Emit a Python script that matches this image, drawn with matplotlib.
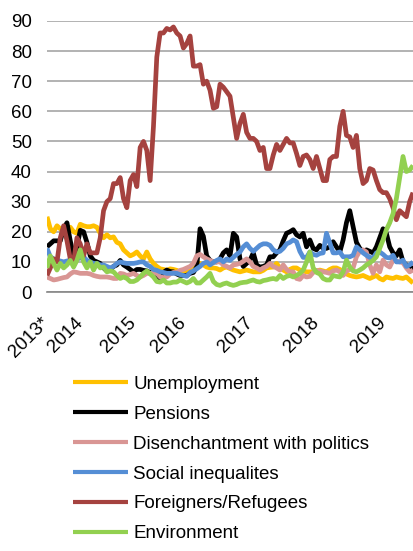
import matplotlib
matplotlib.use("Agg")
import matplotlib.pyplot as plt

plt.rcParams['font.family'] = ['Liberation Sans', 'DejaVu Sans']

# survey index (roughly every 2-3 weeks), years marked on the axis
years = ['2013*', '2014', '2015', '2016', '2017', '2018', '2019']
year_pos = [0, 10, 26, 41, 61, 81, 101]

unemployment = [25, 21, 20, 22, 21, 20, 21.5, 21.5, 20, 19.5, 22.5, 22, 21.7, 21.7, 22, 21.5,
                19.5, 18, 19, 18, 18.3, 16.5, 16, 14, 13, 12, 12.5, 13.3, 12, 11, 13.3, 11,
                9.5, 8.5, 7.7, 7.5, 7.2, 7.7, 7.5, 7.2, 6.5, 6.5, 7, 8, 9, 9.5, 9.5, 9,
                8.3, 8, 8, 7.8, 7.3, 8, 8.3, 7.8, 7.3, 7, 6.7, 7, 7.3, 7, 6.7, 6.7,
                6.7, 7.2, 8, 8.2, 8.3, 9.5, 8, 7.3, 6.7, 7.5, 8, 8, 7.3, 7, 6.7, 6.7,
                6.7, 7, 7.3, 7, 6.7, 7.5, 8, 8, 7.5, 6.7, 6, 5.5, 5.2, 5, 5.2, 5.5,
                5, 4.5, 5, 5.5, 4.5, 4, 5, 4.7, 4.5, 5, 4.7, 4.5, 5, 4, 3]

pensions = [15, 16, 17, 17, 17, 21, 23, 17, 12, 15, 20.5, 20, 16.5, 12, 10.5, 10,
            9.5, 8, 7, 7.5, 8.5, 9, 10.5, 9, 8.3, 7.5, 6.7, 7.5, 7.5, 7.2, 7, 6.5,
            6, 5.5, 4.5, 6.5, 7.3, 6.8, 6.7, 6, 5.5, 5.5, 5.5, 6.2, 6.5, 8.3, 21, 18.5,
            12, 10.5, 10, 10, 11, 13, 14, 12, 19.5, 18.3, 11, 8.5, 9.5, 10.5, 13, 9,
            8.3, 8.5, 9, 11.7, 11.7, 13, 14, 17, 19.5, 20, 20.7, 19, 18.3, 19.5, 15, 17.3,
            14.5, 14, 15.5, 14.5, 14.5, 15, 16.7, 15, 13.3, 17.3, 23, 27, 21.7, 16.5, 14.5, 13.3,
            14, 13.5, 13, 15, 18, 21, 19.5, 15, 13, 12, 14, 10, 9, 8, 8]

disenchantment = [5, 4.5, 4, 4.2, 4.5, 4.8, 5, 6, 6.7, 6.5, 6.2, 6.2, 6.2, 6, 5.5, 5.2,
                  5, 5, 5, 4.8, 4.5, 4.5, 6.2, 6, 5.5, 5.8, 6.2, 5.5, 5, 5.5, 6.2, 6.2,
                  6.2, 6.2, 5, 4.8, 5, 6, 6.5, 6.5, 7.2, 7.5, 8, 8.5, 9.5, 12, 12.5, 11.7,
                  11, 10.5, 10, 10, 10, 9, 8.5, 8, 9, 9.2, 9.5, 10.2, 11, 10, 8.5, 8,
                  7.3, 8, 8.5, 9.5, 8.5, 8, 7.3, 9, 7.5, 6.7, 6.7, 4.5, 4.2, 5.5, 5, 5.2,
                  6.5, 7.2, 7, 6.7, 6.5, 6.2, 7, 7.3, 6.7, 5.5, 7, 7.5, 8, 11.7, 13.5, 14,
                  13.3, 9, 6.2, 9, 6.7, 10.6, 9, 8.3, 10.6, 10.3, 10, 9.7, 8, 6.7, 7.3]

inequalities = [14.5, 11.7, 11, 10.5, 10.3, 10, 10.3, 10.5, 10.8, 11, 11.3, 11.7, 10.5, 10, 9.5, 9.5,
                9, 9, 8.5, 8, 8.5, 9.5, 10, 9.7, 9.5, 9.5, 9.5, 9.7, 10, 10, 9, 8.5,
                7.5, 7.2, 6.7, 6.5, 6.2, 6.2, 6.2, 6.2, 5.8, 5.5, 5.2, 6.5, 7, 7.7, 8.5, 9.5,
                10, 9, 9.8, 10.5, 11, 10, 11, 10.5, 11.5, 12.5, 13.3, 15, 16, 14.5, 13.5, 14.5,
                15.5, 16, 16, 15.5, 14, 13.3, 13.5, 14.5, 16, 16.5, 17.3, 16.7, 13.5, 11.5, 11.5, 13.3,
                12.5, 12.2, 12.8, 13, 19.5, 16.3, 13, 13, 13.3, 11.7, 11.7, 11.7, 12.2, 15, 14, 13,
                12.2, 11.5, 11.3, 13, 13.3, 12.5, 11.5, 11.3, 12.2, 10, 10, 10.6, 8.5, 9, 10]

refugees = [5.5, 8, 11, 10, 18, 22, 17, 11, 10, 18, 16, 12, 16, 13, 13, 13,
            18, 27, 30, 31, 36, 36, 38, 31, 28, 37, 39, 35, 48, 50, 47, 37,
            55, 78, 86, 86, 87.5, 87, 88, 86, 85, 81, 82.5, 85, 75, 75, 75.5, 69,
            70, 67, 61, 61.5, 69, 68, 66.5, 65, 58, 51, 56, 59, 53, 51, 51, 50,
            47, 48, 41, 41, 45.5, 49, 47, 49, 51, 49.5, 49.5, 46, 42, 45, 45.5, 44,
            41, 45, 41, 37, 37, 44, 45, 45, 55, 60, 52, 51.5, 48, 52, 41, 36,
            37, 41, 40.5, 37, 34, 33, 33, 31, 28, 24, 27, 26, 25, 30, 33]

environment = [8, 12, 9.5, 7.3, 9.5, 8, 9, 10.5, 8.3, 10.5, 14, 10, 8, 10, 7.3, 9.5,
               8, 8.3, 6.7, 7, 6.7, 5.5, 4.5, 5, 4.5, 3.5, 3.5, 4, 5, 6.2, 7, 6,
               5, 3.5, 3.3, 4, 3, 3, 3.3, 3.3, 4, 3.5, 3, 3.5, 4.5, 3, 3, 4,
               5, 6.2, 3.5, 2.5, 2.2, 2.7, 3, 2.5, 2.2, 2.5, 3, 3.2, 3.3, 3.7, 4, 3.5,
               3.3, 3.8, 4, 4.3, 4.5, 4.2, 5.5, 4.5, 5.2, 5.5, 5, 5.5, 6.2, 7.3, 10, 13.3,
               8, 6.5, 6, 4.5, 4, 4, 5.5, 5.2, 5, 6.7, 10.6, 8.3, 7, 6.7, 7.3, 8,
               9, 9.7, 10.5, 11.7, 14.5, 17.3, 20.7, 23, 26, 31, 38, 45, 40, 40.5, 42]

series = [
    ('Unemployment', unemployment, '#FFC000'),
    ('Pensions', pensions, '#000000'),
    ('Disenchantment with politics', disenchantment, '#D99694'),
    ('Social inequalites', inequalities, '#558ED5'),
    ('Foreigners/Refugees', refugees, '#A5423F'),
    ('Environment', environment, '#92D050'),
]

fig = plt.figure(figsize=(4.14, 5.51), dpi=100)
ax = fig.add_axes([0.1135, 0.47, 0.8865, 0.492])

for name, vals, col in series:
    ax.plot(range(len(vals)), vals, color=col, lw=3.4, label=name,
            solid_joinstyle='round', solid_capstyle='butt')

ax.set_ylim(0, 90)
ax.set_xlim(0, len(refugees) - 0.7)
ax.set_yticks(range(0, 91, 10))
ax.set_xticks(year_pos)
ax.set_xticklabels(years, rotation=45, ha='right', va='center', rotation_mode='anchor')
ax.tick_params(axis='both', length=0, labelsize=13.5, colors='black')
ax.tick_params(axis='y', pad=11)
ax.tick_params(axis='x', pad=20)

ax.yaxis.grid(True, color='#A6A6A6', lw=1.2)
ax.set_axisbelow(True)
for s in ['top', 'right', 'left']:
    ax.spines[s].set_visible(False)
ax.spines['bottom'].set_color('#868686')
ax.spines['bottom'].set_linewidth(1.2)

# legend under the chart, kept inside the figure
leg = fig.legend(loc='upper left', bbox_to_anchor=(0.176, 0.318), frameon=False,
                 fontsize=13.5, handlelength=2.95, handletextpad=0.28, labelspacing=0.68,
                 borderpad=0, borderaxespad=0)
for h in leg.get_lines():
    h.set_linewidth(3)

fig.savefig('out.png', dpi=100)
